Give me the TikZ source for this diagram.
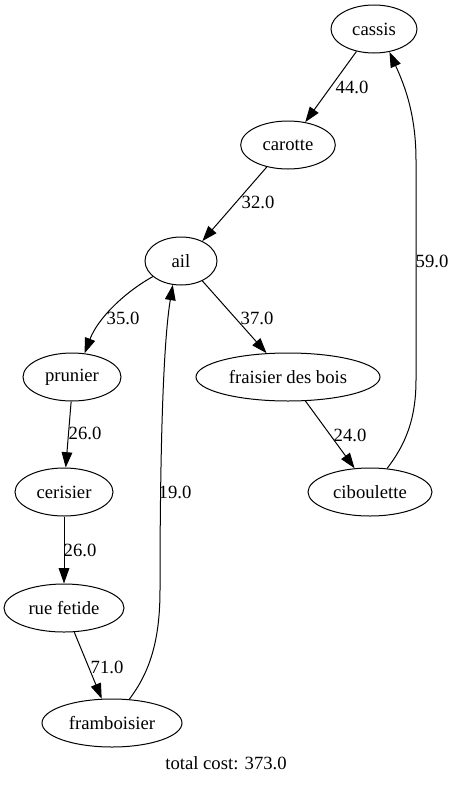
\documentclass[tikz,border=0pt]{standalone}
\usepackage{fontspec}
\setmainfont{Liberation Serif}
\usetikzlibrary{arrows.meta,shapes.geometric}
\begin{document}
\begin{tikzpicture}[x=0.75pt,y=-0.75pt,
  nd/.style={draw,ellipse,line width=0.75pt,minimum height=36pt,inner sep=0pt,font=\fontsize{14pt}{16pt}\selectfont},
  edge/.style={draw,line width=0.75pt,-{Triangle[length=11.5pt,width=8pt]}},
  lbl/.style={font=\fontsize{14pt}{16pt}\selectfont,inner sep=0pt}]
\useasboundingbox (0,0) rectangle (455,785);
\node[nd,minimum width=64.5pt] (cassis) at (374,29) {cassis};
\node[nd,minimum width=71pt] (carotte) at (288,145) {carotte};
\node[nd,minimum width=54pt] (ail) at (181,261) {ail};
\node[nd,minimum width=73.5pt] (prunier) at (72,377) {prunier};
\node[nd,minimum width=138pt] (fraisier) at (288,377) {fraisier des bois};
\node[nd,minimum width=73.5pt] (cerisier) at (64,492) {cerisier};
\node[nd,minimum width=93pt] (ciboulette) at (370,492) {ciboulette};
\node[nd,minimum width=90pt] (rue) at (64,608) {rue fetide};
\node[nd,minimum width=105pt] (framboisier) at (112,723) {framboisier};
\node[lbl] (total) at (226,763) {total cost: 373.0};

\draw[edge] (cassis.232) -- (carotte.53);
\draw[edge] (carotte.226) -- (ail.43);
\draw[edge] (ail.209) .. controls (125,292) and (98,318) .. (prunier.62);
\draw[edge] (ail.317) -- (fraisier.132);
\draw[edge] (prunier.268) -- (cerisier.86);
\draw[edge] (fraisier.306) -- (ciboulette.123);
\draw[edge] (ciboulette.54) .. controls (405,445) and (416,420) .. (416,380) -- (416,160) .. controls (416,110) and (402,80) .. (cassis.304);
\draw[edge] (cerisier.270) -- (rue.90);
\draw[edge] (rue.293) -- (framboisier.113);
\draw[edge] (framboisier.54) .. controls (150,672) and (160,640) .. (160,590) .. controls (160,480) and (162,350) .. (ail.251);

\node[lbl] (l1) at (352,87) {44.0};
\node[lbl] (l2) at (258,202) {32.0};
\node[lbl] (l3) at (123,318) {35.0};
\node[lbl] (l4) at (257,318) {37.0};
\node[lbl] (l5) at (85,433) {26.0};
\node[lbl] (l6) at (350,435) {24.0};
\node[lbl] (l7) at (432,261) {59.0};
\node[lbl] (l8) at (80,550) {26.0};
\node[lbl] (l9) at (175,492) {19.0};
\node[lbl] (l10) at (107,667) {71.0};
\end{tikzpicture}
\end{document}
